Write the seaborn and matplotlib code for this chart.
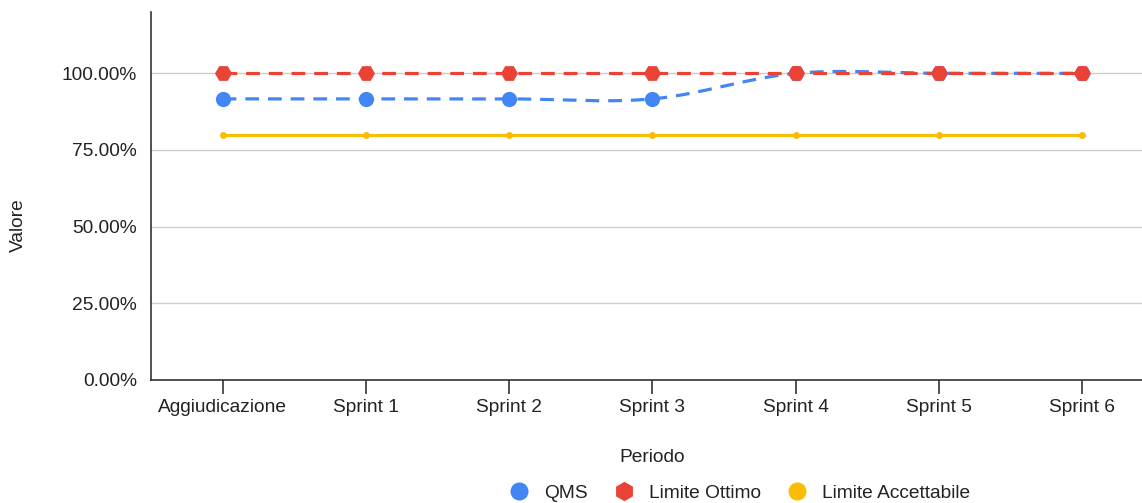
import numpy as np
import pandas as pd
import matplotlib
matplotlib.use("Agg")
import matplotlib.pyplot as plt
from matplotlib.lines import Line2D
import seaborn as sns

periods = ["Aggiudicazione", "Sprint 1", "Sprint 2", "Sprint 3", "Sprint 4", "Sprint 5", "Sprint 6"]
qms = [91.67, 91.67, 91.67, 91.67, 100.0, 100.0, 100.0]
limite_ottimo = [100.0, 100.0, 100.0, 100.0, 100.0, 100.0, 100.0]
limite_accettabile = [80.0, 80.0, 80.0, 80.0, 80.0, 80.0, 80.0]
y_ticks = [0, 25, 50, 75, 100]

BLUE = "#4285F4"
RED = "#EA4335"
YELLOW = "#FBBC04"
FS = 13.8

sns.set_theme(style="white")
plt.rcParams["font.family"] = ["Liberation Sans", "DejaVu Sans"]

x = np.arange(len(periods))

def catmull_rom(xs, ys, n=40):
    xs = np.asarray(xs, float); ys = np.asarray(ys, float)
    m = np.zeros_like(ys)
    m[1:-1] = (ys[2:] - ys[:-2]) / 2.0
    outx, outy = [], []
    for i in range(len(xs) - 1):
        t = np.linspace(0, 1, n, endpoint=False)
        h00 = 2*t**3 - 3*t**2 + 1
        h10 = t**3 - 2*t**2 + t
        h01 = -2*t**3 + 3*t**2
        h11 = t**3 - t**2
        outx.extend(xs[i] + t)
        outy.extend(h00*ys[i] + h10*m[i] + h01*ys[i+1] + h11*m[i+1])
    outx.append(xs[-1]); outy.append(ys[-1])
    return np.array(outx), np.array(outy)

sx, sy = catmull_rom(x, qms)
df_smooth = pd.DataFrame({"x": sx, "y": sy})
df = pd.DataFrame({"x": x, "qms": qms, "ott": limite_ottimo, "acc": limite_accettabile})

fig = plt.figure(figsize=(11.42, 5.03), dpi=100)
ax = fig.add_axes([151/1142, 1 - 380/503, (1154 - 151)/1142, (380 - 12)/503])

ax.set_ylim(0, 120)
ax.set_xlim(-0.5, 6.5)
ax.set_yticks(y_ticks)
ax.yaxis.grid(True, color="#CCCCCC", linewidth=1.0)
ax.set_axisbelow(True)

# Limite Accettabile
sns.lineplot(data=df, x="x", y="acc", ax=ax, color=YELLOW, linewidth=2.2,
             marker="o", markersize=5, markeredgewidth=0, zorder=3)
# QMS smooth dashed
sns.lineplot(data=df_smooth, x="x", y="y", ax=ax, color=BLUE, linewidth=2.3, zorder=4)
ax.lines[-1].set_dashes((4.3, 2.8))
sns.scatterplot(data=df, x="x", y="qms", ax=ax, color=BLUE, s=120, linewidth=0, zorder=5)
# Limite Ottimo
sns.lineplot(data=df, x="x", y="ott", ax=ax, color=RED, linewidth=2.3, zorder=6)
ax.lines[-1].set_dashes((4.3, 2.8))
sns.scatterplot(data=df, x="x", y="ott", ax=ax, color=RED, marker="H", s=150, linewidth=0, zorder=7)

ax.set_xticks(x)
ax.set_xticklabels(periods)
ax.set_yticklabels([f"{v:.2f}%" for v in y_ticks])
ax.tick_params(axis="x", which="both", bottom=True, length=10, width=1.2, color="#333333",
               labelsize=FS, labelcolor="#222222", pad=4)
ax.tick_params(axis="y", length=0, labelsize=FS, labelcolor="#222222", pad=10)

for s in ["top", "right"]:
    ax.spines[s].set_visible(False)
ax.spines["left"].set_color("#333333")
ax.spines["bottom"].set_color("#333333")
ax.spines["left"].set_linewidth(1.2)
ax.spines["bottom"].set_linewidth(1.2)

ax.set_xlabel("")
ax.set_ylabel("")
fig.text(652/1142, 1 - 458/503, "Periodo", ha="center", va="center", fontsize=FS, color="#222222")
fig.text(18/1142, 1 - 225/503, "Valore", ha="center", va="center", rotation=90, fontsize=FS, color="#222222")

handles = [
    Line2D([], [], linestyle="none", marker="o", markersize=13, markerfacecolor=BLUE, markeredgewidth=0),
    Line2D([], [], linestyle="none", marker="h", markersize=14, markerfacecolor=RED, markeredgewidth=0),
    Line2D([], [], linestyle="none", marker="o", markersize=13, markerfacecolor=YELLOW, markeredgewidth=0),
]
fig.legend(handles, ["QMS", "Limite Ottimo", "Limite Accettabile"], loc="center",
           bbox_to_anchor=(735/1142, 1 - 493/503), ncol=3, frameon=False, fontsize=FS,
           handletextpad=0.3, columnspacing=0.9, labelcolor="#222222")

fig.savefig("out.png", dpi=100)
